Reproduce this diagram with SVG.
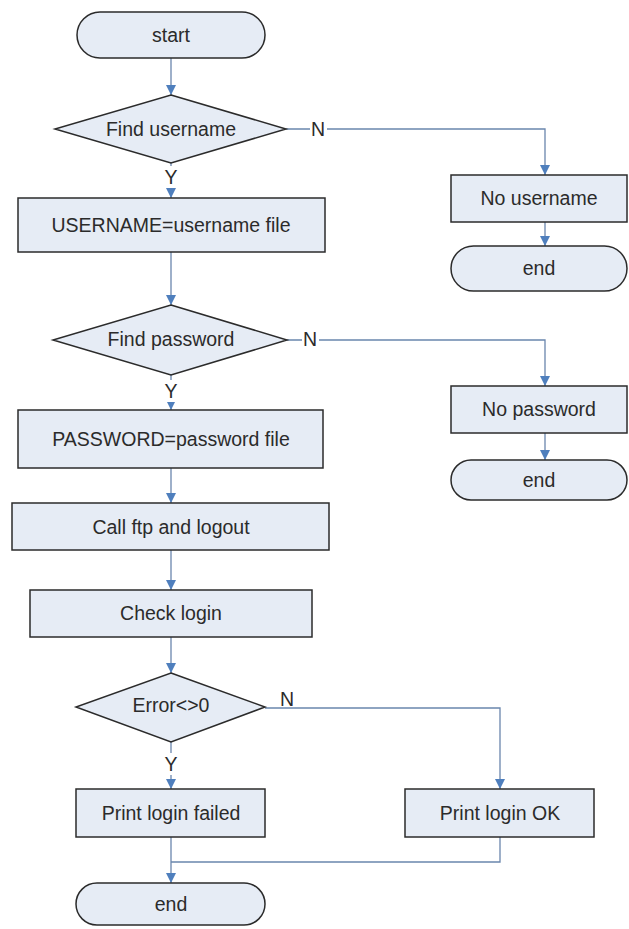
<svg xmlns="http://www.w3.org/2000/svg" width="629" height="929" viewBox="0 0 629 929">
<defs>
<marker id="ah" markerWidth="12" markerHeight="12" refX="10" refY="5" orient="auto" markerUnits="userSpaceOnUse">
<path d="M0,0 L10,5 L0,10 Z" fill="#4f7fbd"/>
</marker>
<style>
.n{fill:#e6ecf5;stroke:#2b2b2b;stroke-width:1.5}
.t{font-family:"Liberation Sans",Arial,sans-serif;font-size:19.5px;fill:#2b2b2b;text-anchor:middle;dominant-baseline:central}
.c{fill:none;stroke:#6a86ad;stroke-width:1.3}
.a{marker-end:url(#ah)}
.bg{fill:#ffffff}
</style>
</defs>
<rect width="629" height="929" fill="#ffffff"/>
<g id="connectors">
<line class="c a" x1="171" y1="58" x2="171" y2="95"/>
<line class="c a" x1="171" y1="163" x2="171" y2="198"/>
<polyline class="c a" points="286,129 545,129 545,175"/>
<line class="c a" x1="545" y1="222" x2="545" y2="246"/>
<line class="c a" x1="171" y1="252" x2="171" y2="305"/>
<line class="c a" x1="171" y1="375" x2="171" y2="410"/>
<polyline class="c a" points="287,340 545,340 545,386"/>
<line class="c a" x1="545" y1="433" x2="545" y2="460"/>
<line class="c a" x1="171" y1="468" x2="171" y2="503"/>
<line class="c a" x1="171" y1="550" x2="171" y2="590"/>
<line class="c a" x1="171" y1="637" x2="171" y2="673"/>
<line class="c a" x1="171" y1="742" x2="171" y2="789"/>
<polyline class="c a" points="265,708 500,708 500,789"/>
<line class="c a" x1="171" y1="837" x2="171" y2="883"/>
<polyline class="c" points="500,837 500,862 171,862"/>
<rect class="bg" x="163" y="166" width="16" height="22"/>
<text class="t" x="171" y="177">Y</text>
<rect class="bg" x="310" y="118" width="17" height="22"/>
<text class="t" x="318" y="129">N</text>
<rect class="bg" x="163" y="380" width="16" height="22"/>
<text class="t" x="171" y="391">Y</text>
<rect class="bg" x="302" y="329" width="17" height="22"/>
<text class="t" x="310" y="339">N</text>
<rect class="bg" x="279" y="690" width="17" height="17"/>
<text class="t" x="287" y="699">N</text>
<rect class="bg" x="163" y="753" width="16" height="22"/>
<text class="t" x="171" y="764">Y</text>
</g>
<g id="start">
<rect class="n" x="77" y="12" width="188" height="46" rx="23"/>
<text class="t" x="171" y="35">start</text>
</g>
<g id="find_username">
<polygon class="n" points="171,95 286,129 171,163 55,129"/>
<text class="t" x="171" y="129">Find username</text>
</g>
<g id="no_username">
<rect class="n" x="451" y="175" width="176" height="47"/>
<text class="t" x="539" y="198">No username</text>
</g>
<g id="end1">
<rect class="n" x="451" y="246" width="176" height="45" rx="22.5"/>
<text class="t" x="539" y="268">end</text>
</g>
<g id="username_file">
<rect class="n" x="18" y="198" width="307" height="54"/>
<text class="t" x="171" y="225">USERNAME=username file</text>
</g>
<g id="find_password">
<polygon class="n" points="171,305 287,340 171,375 53,340"/>
<text class="t" x="171" y="339">Find password</text>
</g>
<g id="no_password">
<rect class="n" x="451" y="386" width="176" height="47"/>
<text class="t" x="539" y="409">No password</text>
</g>
<g id="end2">
<rect class="n" x="451" y="460" width="176" height="40" rx="20"/>
<text class="t" x="539" y="480">end</text>
</g>
<g id="password_file">
<rect class="n" x="18" y="410" width="305" height="58"/>
<text class="t" x="171" y="439">PASSWORD=password file</text>
</g>
<g id="call_ftp">
<rect class="n" x="12" y="503" width="317" height="47"/>
<text class="t" x="171" y="527">Call ftp and logout</text>
</g>
<g id="check_login">
<rect class="n" x="30" y="590" width="282" height="47"/>
<text class="t" x="171" y="613">Check login</text>
</g>
<g id="error_check">
<polygon class="n" points="171,673 265,707 171,742 76,707"/>
<text class="t" x="171" y="705">Error&lt;&gt;0</text>
</g>
<g id="login_failed">
<rect class="n" x="76" y="789" width="189" height="48"/>
<text class="t" x="171" y="813">Print login failed</text>
</g>
<g id="login_ok">
<rect class="n" x="405" y="789" width="189" height="48"/>
<text class="t" x="500" y="813">Print login OK</text>
</g>
<g id="end3">
<rect class="n" x="76" y="883" width="189" height="42" rx="21"/>
<text class="t" x="171" y="904">end</text>
</g>
</svg>
